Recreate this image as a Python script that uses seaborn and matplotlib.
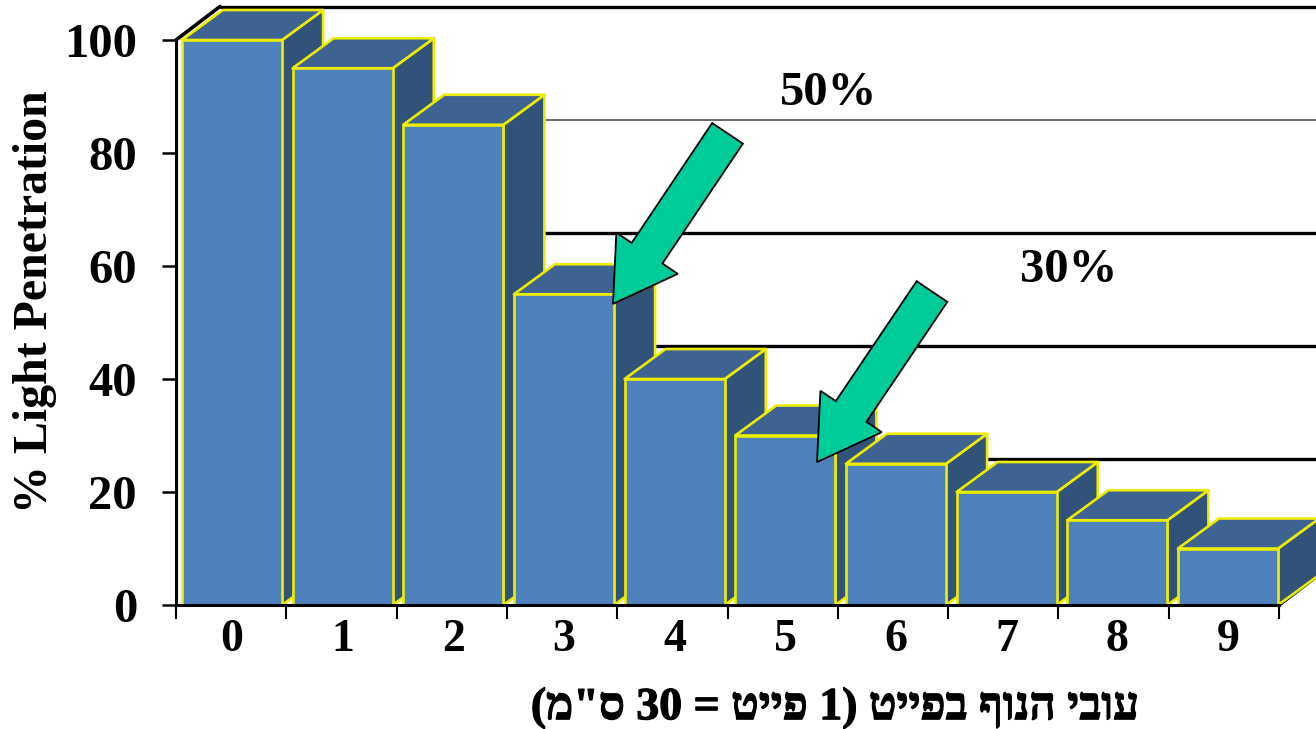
import numpy as np
import matplotlib
matplotlib.use("Agg")
import matplotlib.pyplot as plt
import matplotlib.patheffects as pe
from matplotlib.patches import Polygon, FancyArrow
from matplotlib.transforms import IdentityTransform
import seaborn as sns

depth_feet = [0, 1, 2, 3, 4, 5, 6, 7, 8, 9]
light_pct = [100, 95, 85, 55, 40, 30, 25, 20, 15, 10]
y_ticks = [0, 20, 40, 60, 80, 100]
wall_lines = [20, 40, 60, 80, 100]
title_y = "% Light Penetration"
# Hebrew in visual (left-to-right) order, since matplotlib does not reorder RTL text
title_x = '(מ"ס 30 = טייפ 1) טייפב ףונה יבוע'

sns.set_theme(style="white")
plt.rcParams["font.family"] = ["Liberation Serif", "DejaVu Sans"]
plt.rcParams["font.weight"] = "bold"

W, H = 1316, 729
fig = plt.figure(figsize=(W / 100, H / 100), dpi=100, facecolor="white")
L, R, T, B = 176, 1279, 40, 605
ax = fig.add_axes([L / W, 1 - B / H, (R - L) / W, (B - T) / H])

EDGE = "#EDED00"
sns.barplot(x=depth_feet, y=light_pct, color="#4F81BD", saturation=1, width=0.905,
            edgecolor=EDGE, linewidth=1.9, ax=ax, zorder=5)

px_x = 110.67
px_y = (B - T) / 100
x0px = 232
ax.set_xlim((L - x0px) / px_x, (R - x0px) / px_x)
ax.set_ylim(0, 100)
dx = 41 / px_x
dy = 30 / px_y
wall_dx = 44 / px_x
wall_dy = 33.5 / px_y

FRONT_TOP = "#3E6390"
SIDE = "#325379"

for i, patch in enumerate(ax.patches):
    patch.set_zorder(11 + 2 * i)
    patch.set_clip_on(False)
    x_a = patch.get_x()
    x_b = x_a + patch.get_width()
    v = patch.get_height()
    side = Polygon([(x_b, 0), (x_b + dx, dy), (x_b + dx, v + dy), (x_b, v)],
                   fc=SIDE, ec=EDGE, lw=1.9, clip_on=False, zorder=10 + 2 * i, joinstyle="round")
    top = Polygon([(x_a, v), (x_a + dx, v + dy), (x_b + dx, v + dy), (x_b, v)],
                  fc=FRONT_TOP, ec=EDGE, lw=1.9, clip_on=False, zorder=10 + 2 * i, joinstyle="round")
    ax.add_patch(side)
    ax.add_patch(top)

# back wall
x_wall_l = ax.get_xlim()[0] + wall_dx
x_fig_r = (W - x0px) / px_x
for v in wall_lines:
    thin = v == 80
    ax.plot([x_wall_l, x_fig_r], [v + wall_dy, v + wall_dy], color="#444444" if thin else "black",
            lw=1.1 if thin else 2.4, clip_on=False, zorder=1, solid_capstyle="butt")
ax.plot([ax.get_xlim()[0], x_wall_l], [100, 100 + wall_dy], color="black", lw=2.6, clip_on=False, zorder=2)
floor_dx = (W - R) / px_x
ax.plot([ax.get_xlim()[1], x_fig_r], [0, floor_dx / wall_dx * wall_dy], color="black", lw=2.6,
        clip_on=False, zorder=2)

for s in ["top", "right"]:
    ax.spines[s].set_visible(False)
for s in ["left", "bottom"]:
    ax.spines[s].set_visible(True)
    ax.spines[s].set_color("black")
    ax.spines[s].set_linewidth(2.2)
    ax.spines[s].set_zorder(4)
ax.spines["bottom"].set_zorder(40)

ax.set_yticks(y_ticks)
ax.set_yticklabels([str(v) for v in y_ticks])
ax.tick_params(axis="y", length=10, width=1.8, color="black", pad=18, labelsize=35, left=True)
ax.set_xticks(depth_feet)
ax.set_xticklabels([str(v) for v in depth_feet])
ax.tick_params(axis="x", which="major", length=0, pad=10, labelsize=33, bottom=False)
ax.set_xticks(np.linspace(ax.get_xlim()[0], ax.get_xlim()[1], 11), minor=True)
ax.tick_params(axis="x", which="minor", length=10, width=1.5, color="black", bottom=True)

for t in ax.get_xticklabels() + ax.get_yticklabels():
    t.set_fontweight("bold")
    t.set_color("black")

ax.set_ylabel(title_y, fontsize=34.5, fontweight="bold", color="black", va="center")
ax.yaxis.set_label_coords((35 - L) / (R - L), (B - 302) / (B - T))
xl = ax.set_xlabel(title_x, fontsize=33, fontweight="bold", color="black", va="center", ha="center")
xl.set_path_effects([pe.withStroke(linewidth=0.9, foreground="black")])
ax.xaxis.set_label_coords((835 - L) / (R - L), (B - 708) / (B - T))

ax.text((829 - x0px) / px_x, (B - 93) / px_y, "50%", fontsize=35, fontweight="bold",
        ha="center", va="center", color="black", zorder=50)
ax.text((1069 - x0px) / px_x, (B - 270) / px_y, "30%", fontsize=35, fontweight="bold",
        ha="center", va="center", color="black", zorder=50)

# arrows: tips given in data units, tail offsets in pixels
arrow_tips = [(3.443, 53.3), (5.286, 25.3)]
arrow_offs = [(114.5, 170.5), (115.0, 170.5)]
for (tx, ty), (ox, oy) in zip(arrow_tips, arrow_offs):
    px, py = ax.transData.transform((tx, ty))
    arrow = FancyArrow(px + ox, py + oy, -ox, -oy, width=37, head_width=74, head_length=61,
                       length_includes_head=True, fc="#00CC99", ec="black", lw=1.3,
                       transform=IdentityTransform(), clip_on=False, zorder=60)
    ax.add_patch(arrow)

fig.savefig("out.png", dpi=100)
